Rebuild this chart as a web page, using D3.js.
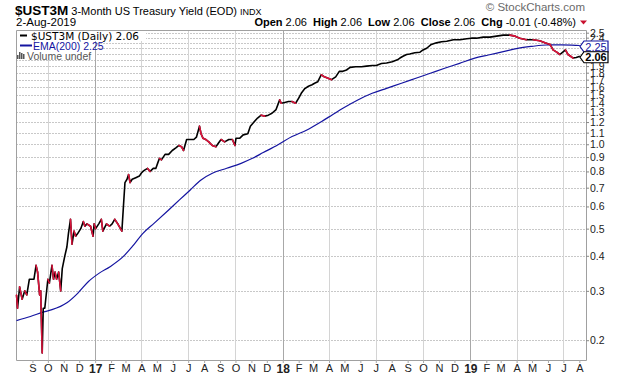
<!DOCTYPE html>
<html><head><meta charset="utf-8">
<script src="https://cdnjs.cloudflare.com/ajax/libs/d3/7.8.5/d3.min.js"></script>
<style>body{margin:0;background:#fff}svg{display:block}</style>
</head><body><svg id="c" width="620" height="376"></svg>
<script>
// ---- data ----
const priceDates = ["2016-08-01","2016-08-03","2016-08-07","2016-08-12","2016-08-17","2016-08-21","2016-08-26","2016-09-01","2016-09-04","2016-09-08","2016-09-11","2016-09-15","2016-09-17","2016-09-20","2016-09-22","2016-09-25","2016-10-01","2016-10-04","2016-10-07","2016-10-09","2016-10-12","2016-10-15","2016-10-18","2016-10-22","2016-10-26","2016-10-29","2016-11-03","2016-11-07","2016-11-10","2016-11-14","2016-11-17","2016-11-21","2016-11-24","2016-11-28","2016-12-04","2016-12-09","2016-12-12","2016-12-16","2016-12-23","2016-12-28","2016-12-30","2017-01-02","2017-01-08","2017-01-13","2017-01-16","2017-01-23","2017-01-29","2017-02-03","2017-02-08","2017-02-14","2017-02-22","2017-02-25","2017-02-28","2017-03-04","2017-03-07","2017-03-10","2017-03-14","2017-03-21","2017-03-28","2017-04-01","2017-04-04","2017-04-08","2017-04-13","2017-04-18","2017-04-24","2017-04-29","2017-05-03","2017-05-06","2017-05-10","2017-05-17","2017-05-24","2017-05-31","2017-06-07","2017-06-13","2017-06-18","2017-06-22","2017-06-28","2017-07-05","2017-07-12","2017-07-17","2017-07-23","2017-07-26","2017-07-30","2017-08-04","2017-08-10","2017-08-17","2017-08-24","2017-08-29","2017-09-03","2017-09-10","2017-09-18","2017-09-25","2017-09-30","2017-10-02","2017-10-09","2017-10-16","2017-10-25","2017-10-30","2017-11-06","2017-11-13","2017-11-20","2017-11-27","2017-12-04","2017-12-11","2017-12-19","2017-12-26","2017-12-29","2018-01-05","2018-01-12","2018-01-19","2018-01-26","2018-02-01","2018-02-06","2018-02-13","2018-02-20","2018-02-27","2018-03-04","2018-03-10","2018-03-17","2018-03-23","2018-03-30","2018-04-06","2018-04-14","2018-04-21","2018-04-28","2018-05-05","2018-05-12","2018-05-23","2018-06-03","2018-06-13","2018-06-24","2018-07-02","2018-07-12","2018-07-22","2018-08-02","2018-08-12","2018-08-17","2018-08-23","2018-08-30","2018-09-05","2018-09-15","2018-09-25","2018-10-01","2018-10-08","2018-10-17","2018-10-27","2018-11-06","2018-11-16","2018-11-29","2018-12-12","2018-12-25","2019-01-03","2019-01-13","2019-01-26","2019-02-08","2019-02-21","2019-03-06","2019-03-19","2019-03-29","2019-04-07","2019-04-20","2019-05-03","2019-05-16","2019-05-26","2019-06-05","2019-06-11","2019-06-18","2019-06-24","2019-07-01","2019-07-05","2019-07-10","2019-07-15","2019-07-20","2019-07-26","2019-08-02"];
const priceValues = [0.29,0.26,0.31,0.28,0.30,0.29,0.33,0.33,0.33,0.37,0.35,0.29,0.30,0.18,0.26,0.26,0.33,0.32,0.35,0.37,0.33,0.35,0.33,0.35,0.30,0.36,0.40,0.43,0.48,0.54,0.44,0.49,0.47,0.48,0.50,0.53,0.51,0.52,0.51,0.47,0.52,0.50,0.52,0.54,0.49,0.52,0.51,0.52,0.54,0.52,0.49,0.60,0.73,0.75,0.78,0.73,0.75,0.76,0.77,0.79,0.80,0.81,0.82,0.80,0.82,0.82,0.86,0.89,0.88,0.92,0.92,0.95,0.97,0.99,0.98,0.95,1.04,1.04,1.04,1.06,1.16,1.09,1.05,1.04,1.02,0.99,0.98,1.01,1.04,1.02,1.04,1.04,0.99,1.05,1.05,1.08,1.09,1.16,1.20,1.24,1.27,1.26,1.27,1.29,1.33,1.44,1.40,1.41,1.42,1.42,1.40,1.46,1.52,1.58,1.61,1.63,1.65,1.67,1.77,1.74,1.72,1.70,1.74,1.82,1.82,1.84,1.88,1.89,1.89,1.90,1.91,1.91,1.94,1.95,1.97,2.00,2.03,2.06,2.09,2.10,2.12,2.13,2.17,2.20,2.27,2.30,2.32,2.33,2.36,2.36,2.38,2.39,2.39,2.41,2.41,2.43,2.45,2.45,2.43,2.39,2.36,2.36,2.34,2.30,2.27,2.17,2.13,2.09,2.14,2.17,2.09,2.06,2.03,2.04,2.06];
const emaDates = ["2016-08-01","2016-08-28","2016-09-25","2016-10-09","2016-11-07","2016-11-28","2016-12-19","2017-01-09","2017-01-30","2017-02-25","2017-03-14","2017-04-04","2017-04-26","2017-05-24","2017-06-14","2017-07-05","2017-07-26","2017-08-17","2017-09-14","2017-10-12","2017-11-03","2017-11-24","2017-12-22","2018-01-19","2018-02-17","2018-03-17","2018-04-07","2018-04-28","2018-05-27","2018-06-24","2018-07-22","2018-08-20","2018-09-17","2018-10-15","2018-11-12","2018-12-11","2019-01-08","2019-02-05","2019-03-06","2019-04-03","2019-05-01","2019-05-29","2019-06-27","2019-07-25","2019-08-02"];
const emaValues = [0.235,0.243,0.253,0.257,0.272,0.294,0.324,0.347,0.366,0.398,0.431,0.481,0.523,0.583,0.633,0.687,0.746,0.788,0.821,0.855,0.891,0.934,0.994,1.065,1.125,1.204,1.272,1.344,1.439,1.520,1.583,1.650,1.719,1.791,1.866,1.944,2.025,2.082,2.139,2.199,2.235,2.260,2.262,2.253,2.25];
const yTickValues = [0.2,0.3,0.4,0.5,0.6,0.7,0.8,0.9,1.0,1.1,1.2,1.3,1.4,1.5,1.6,1.7,1.8,1.9,2.0,2.1,2.2,2.3,2.4,2.5];
const yLabelHidden = [2.0,2.1,2.2,2.3]; // covered by the value boxes in the reference
const monthLetters = ["J","F","M","A","M","J","J","A","S","O","N","D"];
const lastClose = 2.06, lastEma = 2.25;

// ---- drawing ----
const svg = d3.select("#c");
const L = 16, R = 586, T = 30, B = 360;
const parse = d3.timeParse("%Y-%m-%d");
const price = priceDates.map((d, i) => ({date: parse(d), v: priceValues[i]}));
const ema = emaDates.map((d, i) => ({date: parse(d), v: emaValues[i]}));

const x = d3.scaleTime().domain([new Date(2016, 6, 31), new Date(2019, 7, 14)]).range([L, R]);
const y = d3.scaleLog().domain([0.17, 2.535]).range([B, 31]);

const FONT = "'Liberation Sans', Arial, sans-serif";
const NB = "\u00a0";

// horizontal grid
svg.append("g").selectAll("line").data(yTickValues).join("line")
  .attr("x1", L).attr("x2", R).attr("y1", d => Math.round(y(d)) + 0.5).attr("y2", d => Math.round(y(d)) + 0.5)
  .attr("stroke", "#c8c8c8").attr("stroke-dasharray", "2,1");

// vertical grid (quarterly)
const months = d3.timeMonth.range(new Date(2016, 8, 1), new Date(2019, 7, 14));
const quarters = months.filter(m => m.getMonth() % 3 === 0);
svg.append("g").selectAll("line").data(quarters).join("line")
  .attr("x1", d => Math.round(x(d)) + 0.5).attr("x2", d => Math.round(x(d)) + 0.5)
  .attr("y1", T).attr("y2", B)
  .attr("stroke", d => d.getMonth() === 0 ? "#a8a8a8" : "#d4d4d4");

// border
svg.append("path").attr("d", `M${L + 0.5},${T + 0.5}H${R + 0.5}V${B + 0.5}H${L + 0.5}Z`)
  .attr("fill", "none").attr("stroke", "#a0a0a0");

// EMA
svg.append("path").datum(ema)
  .attr("d", d3.line().x(d => x(d.date)).y(d => y(d.v)).curve(d3.curveMonotoneX))
  .attr("fill", "none").attr("stroke", "#1414a0").attr("stroke-width", 1.2);

// price line: black, down-moves red
svg.append("path").datum(price)
  .attr("d", d3.line().x(d => x(d.date)).y(d => y(d.v)))
  .attr("fill", "none").attr("stroke", "#000").attr("stroke-width", 1.6).attr("stroke-linejoin", "round");
svg.append("g").selectAll("line").data(d3.pairs(price).filter(p => p[1].v < p[0].v)).join("line")
  .attr("x1", d => x(d[0].date)).attr("y1", d => y(d[0].v))
  .attr("x2", d => x(d[1].date)).attr("y2", d => y(d[1].v))
  .attr("stroke", "#dc143c").attr("stroke-width", 1.6).attr("stroke-linecap", "round");

// right axis
const yAxis = svg.append("g").attr("transform", `translate(${R},0)`)
  .call(d3.axisRight(y).tickValues(yTickValues)
    .tickFormat(d => yLabelHidden.includes(d) ? "" : d3.format(".1f")(d)).tickSize(3).tickPadding(1));
yAxis.select(".domain").remove();
yAxis.selectAll("line").attr("stroke", "#888");
yAxis.selectAll("text").attr("font-family", FONT).attr("font-size", 10.5).attr("fill", "#222");

// bottom axis
const xAxis = svg.append("g").attr("transform", `translate(0,${B})`)
  .call(d3.axisBottom(x).tickValues(months)
    .tickFormat(d => d.getMonth() === 0 ? d3.timeFormat("%y")(d) : monthLetters[d.getMonth()])
    .tickSize(3).tickPadding(1));
xAxis.select(".domain").remove();
xAxis.selectAll("line").attr("stroke", "#aaa");
xAxis.selectAll("text").attr("font-family", FONT).attr("fill", "#222")
  .attr("font-weight", d => d.getMonth() === 0 ? "bold" : "normal")
  .attr("font-size", d => d.getMonth() === 0 ? 12 : 11);

// value boxes on right
function valueBox(v, color, bold) {
  const yc = y(v) + 1;
  const g = svg.append("g");
  g.append("path")
    .attr("d", `M580,${yc}L584,${yc - 5.5}H608V${yc + 5.5}H584Z`)
    .attr("fill", "#fff").attr("stroke", color).attr("stroke-width", 1.2);
  g.append("text").attr("x", 596).attr("y", yc + 4).attr("text-anchor", "middle")
    .attr("font-family", FONT).attr("font-size", 11).attr("font-weight", bold ? "bold" : "normal")
    .attr("fill", color).text(d3.format(".2f")(v));
}
valueBox(lastEma, "#1414a0", false);
valueBox(lastClose, "#000", true);

// legend
const leg = svg.append("g");
leg.append("rect").attr("x", L + 1).attr("y", T + 1).attr("width", 129).attr("height", 10).attr("fill", "#fff");
leg.append("rect").attr("x", L + 1).attr("y", T + 11).attr("width", 78).attr("height", 19).attr("fill", "#fff");
leg.append("line").attr("x1", 95.5).attr("x2", 95.5).attr("y1", 49).attr("y2", 60).attr("stroke", "#aaa");
leg.append("line").attr("x1", 20).attr("x2", 27).attr("y1", 35.5).attr("y2", 35.5).attr("stroke", "#000").attr("stroke-width", 2);
leg.append("text").attr("x", 31).attr("y", 39.5).attr("font-family", "'DejaVu Sans', Verdana, sans-serif")
  .attr("font-size", 10.5).attr("fill", "#000").text(`$UST3M (Daily) ${d3.format(".2f")(lastClose)}`);
leg.append("line").attr("x1", 20).attr("x2", 32).attr("y1", 45.5).attr("y2", 45.5).attr("stroke", "#1414a0").attr("stroke-width", 2);
leg.append("text").attr("x", 33).attr("y", 49.5).attr("font-family", FONT)
  .attr("font-size", 10.5).attr("fill", "#1414a0").text(`EMA(200) ${d3.format(".2f")(lastEma)}`);
[[17, 55, 4], [19, 52, 7], [21, 53, 6], [23, 54, 5]].forEach(([bx, by, bh]) =>
  leg.append("rect").attr("x", bx).attr("y", by).attr("width", 1.5).attr("height", bh).attr("fill", "#555"));
leg.append("text").attr("x", 27).attr("y", 59.5).attr("font-family", FONT)
  .attr("font-size", 10.5).attr("fill", "#555").text("Volume undef");

// header
const t = svg.append("text").attr("x", 15).attr("y", 15).attr("font-family", FONT).attr("fill", "#000");
t.append("tspan").attr("font-weight", "bold").attr("font-size", 13.5).text("$UST3M");
t.append("tspan").attr("font-size", 11).text(NB + "3-Month US Treasury Yield (EOD)" + NB);
t.append("tspan").attr("font-size", 9).text("INDX");

svg.append("text").attr("x", 16).attr("y", 26).attr("font-family", FONT).attr("font-size", 11.5).text("2-Aug-2019");

const info = [["Open", true], [NB + "2.06" + NB + NB, false], ["High", true], [NB + "2.06" + NB + NB, false],
  ["Low", true], [NB + "2.06" + NB + NB, false], ["Close", true], [NB + "2.06" + NB + NB, false],
  ["Chg", true], [NB + "-0.01 (-0.48%)", false]];
const it = svg.append("text").attr("x", 576).attr("y", 26).attr("text-anchor", "end")
  .attr("font-family", FONT).attr("font-size", 11).attr("fill", "#000");
info.forEach(([s, b]) => it.append("tspan").attr("font-weight", b ? "bold" : "normal").text(s));
svg.append("path").attr("d", "M580,20.5H587L583.5,24.5Z").attr("fill", "#c8102e");

svg.append("text").attr("x", 585).attr("y", 11).attr("text-anchor", "end").attr("font-family", FONT)
  .attr("font-size", 11.5).attr("fill", "#6a6a6a").text("\u00A9 StockCharts.com");
</script></body></html>
